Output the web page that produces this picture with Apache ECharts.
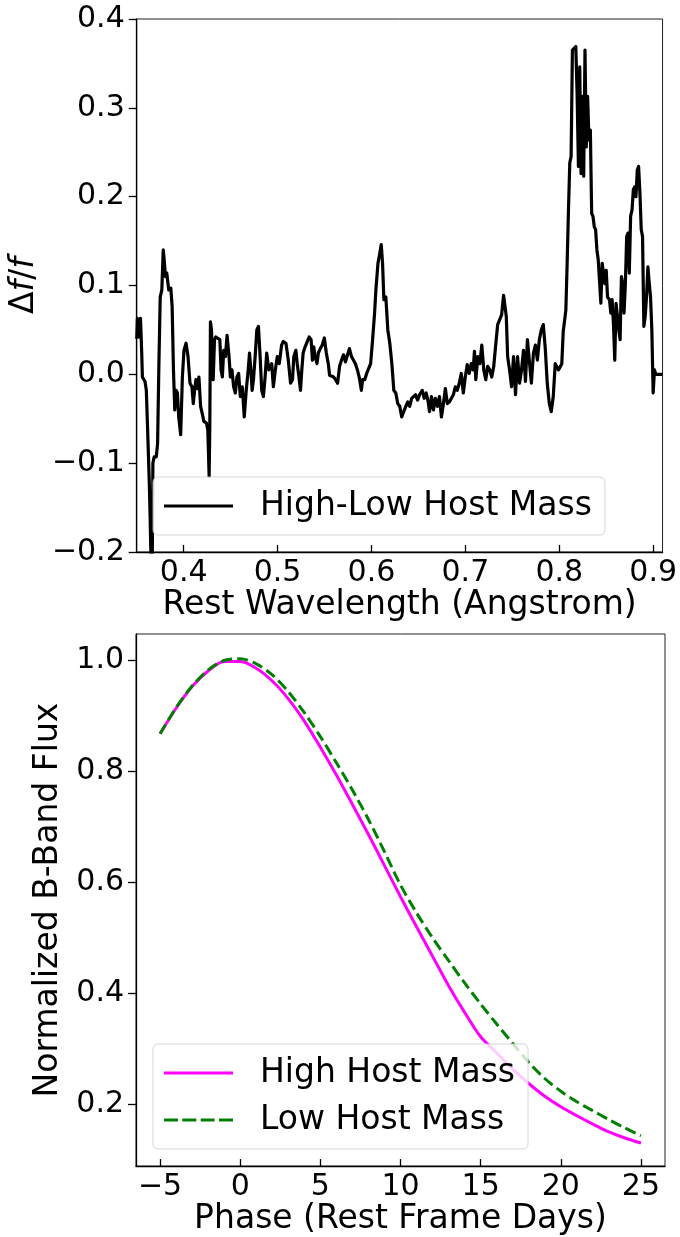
<!DOCTYPE html>
<html><head><meta charset="utf-8">
<script src="https://cdn.jsdelivr.net/npm/echarts@6/dist/echarts.min.js"></script>
<style>html,body{margin:0;padding:0;background:#fff}#c{width:680px;height:1237px}</style>
</head><body><div id="c"></div><script>
// ---- Top panel: spectral difference ----
const wave = [0.3500,0.3507,0.3526,0.3540,0.3553,0.3560,0.3588,0.3602,0.3616,0.3634,0.3644,0.3662,0.3672,0.3686,0.3708,0.3722,0.3736,0.3750,0.3767,0.3782,0.3792,0.3806,0.3820,0.3841,0.3863,0.3877,0.3891,0.3905,0.3919,0.3933,0.3947,0.3968,0.3986,0.4003,0.4025,0.4046,0.4067,0.4088,0.4102,0.4116,0.4130,0.4144,0.4162,0.4180,0.4197,0.4215,0.4243,0.4257,0.4271,0.4278,0.4285,0.4296,0.4314,0.4328,0.4342,0.4363,0.4385,0.4398,0.4412,0.4426,0.4444,0.4462,0.4483,0.4497,0.4514,0.4532,0.4550,0.4567,0.4585,0.4603,0.4624,0.4645,0.4666,0.4687,0.4701,0.4715,0.4729,0.4743,0.4761,0.4779,0.4796,0.4814,0.4831,0.4849,0.4867,0.4884,0.4906,0.4920,0.4937,0.4955,0.4976,0.4997,0.5018,0.5043,0.5061,0.5089,0.5114,0.5138,0.5159,0.5173,0.5195,0.5209,0.5223,0.5244,0.5258,0.5272,0.5293,0.5314,0.5336,0.5357,0.5371,0.5385,0.5399,0.5420,0.5434,0.5455,0.5476,0.5498,0.5519,0.5540,0.5554,0.5575,0.5596,0.5617,0.5639,0.5660,0.5681,0.5702,0.5723,0.5744,0.5765,0.5787,0.5808,0.5829,0.5850,0.5871,0.5892,0.5906,0.5928,0.5949,0.5970,0.5991,0.6012,0.6033,0.6047,0.6069,0.6083,0.6104,0.6118,0.6132,0.6153,0.6174,0.6195,0.6217,0.6238,0.6259,0.6280,0.6301,0.6322,0.6343,0.6364,0.6386,0.6407,0.6428,0.6449,0.6470,0.6491,0.6512,0.6541,0.6562,0.6583,0.6604,0.6618,0.6639,0.6660,0.6681,0.6703,0.6724,0.6745,0.6766,0.6787,0.6808,0.6830,0.6851,0.6872,0.6893,0.6914,0.6935,0.6956,0.6978,0.6999,0.7020,0.7041,0.7062,0.7083,0.7097,0.7111,0.7133,0.7154,0.7175,0.7196,0.7217,0.7238,0.7259,0.7281,0.7302,0.7323,0.7344,0.7365,0.7386,0.7407,0.7422,0.7436,0.7450,0.7471,0.7492,0.7513,0.7534,0.7556,0.7577,0.7598,0.7619,0.7640,0.7661,0.7682,0.7703,0.7725,0.7746,0.7767,0.7788,0.7809,0.7830,0.7851,0.7872,0.7894,0.7915,0.7936,0.7957,0.7978,0.7992,0.8013,0.8027,0.8042,0.8056,0.8070,0.8084,0.8098,0.8112,0.8126,0.8140,0.8155,0.8176,0.8190,0.8204,0.8218,0.8232,0.8246,0.8260,0.8274,0.8288,0.8302,0.8316,0.8331,0.8345,0.8359,0.8373,0.8387,0.8401,0.8415,0.8429,0.8443,0.8457,0.8472,0.8486,0.8500,0.8514,0.8535,0.8549,0.8563,0.8577,0.8591,0.8605,0.8619,0.8634,0.8648,0.8662,0.8676,0.8690,0.8704,0.8718,0.8732,0.8746,0.8760,0.8775,0.8789,0.8803,0.8817,0.8831,0.8845,0.8859,0.8873,0.8887,0.8901,0.8915,0.8929,0.8944,0.8958,0.8972,0.8986,0.9000,0.9014,0.9028,0.9100];
const dff = [0.040,0.063,0.042,0.063,0.024,-0.003,-0.008,-0.018,-0.063,-0.123,-0.168,-0.260,-0.100,-0.093,-0.093,-0.078,0.012,0.087,0.095,0.140,0.129,0.110,0.114,0.095,0.097,0.076,0.005,-0.040,-0.018,-0.021,-0.048,-0.068,-0.003,0.027,0.035,0.020,-0.010,-0.014,-0.033,-0.018,-0.006,-0.016,-0.003,-0.036,-0.044,-0.053,-0.055,-0.063,-0.115,-0.059,0.059,0.050,-0.006,0.039,0.042,0.042,0.039,0.005,-0.003,0.027,0.020,0.044,0.020,-0.003,0.005,-0.014,-0.021,-0.003,0.001,-0.025,-0.014,-0.048,-0.018,0.005,0.024,0.005,-0.018,-0.006,0.020,0.050,0.054,0.020,-0.018,-0.025,-0.003,0.024,0.005,0.003,0.012,-0.014,0.005,0.020,0.012,0.033,0.037,0.035,0.016,-0.010,-0.006,0.020,0.027,0.012,0.001,-0.018,0.005,0.024,0.031,0.033,0.042,0.039,0.016,0.031,0.020,0.012,0.024,0.029,0.033,0.041,0.024,0.012,-0.001,-0.003,-0.003,-0.006,-0.010,0.009,0.016,0.022,0.014,0.012,0.029,0.020,0.020,0.012,0.005,-0.004,-0.018,-0.006,-0.006,0.001,0.003,0.012,0.039,0.069,0.095,0.125,0.133,0.146,0.125,0.084,0.087,0.050,0.035,0.012,-0.018,-0.021,-0.033,-0.036,-0.048,-0.042,-0.040,-0.031,-0.036,-0.027,-0.025,-0.023,-0.029,-0.023,-0.018,-0.027,-0.021,-0.031,-0.042,-0.025,-0.040,-0.027,-0.036,-0.025,-0.048,-0.033,-0.016,-0.033,-0.031,-0.027,-0.023,-0.014,-0.018,-0.010,0.001,-0.021,-0.003,0.011,0.001,0.012,0.005,0.026,-0.006,0.020,0.012,0.033,0.005,-0.006,0.009,0.005,-0.003,0.009,0.033,0.056,0.054,0.067,0.089,0.089,0.065,0.020,0.005,-0.014,0.020,-0.023,0.020,-0.010,0.005,0.027,-0.008,0.039,0.039,-0.010,0.024,0.033,0.016,0.039,0.050,0.056,0.029,-0.010,-0.033,-0.042,-0.025,0.012,0.012,0.005,0.009,0.012,0.048,0.050,0.072,0.125,0.185,0.238,0.245,0.365,0.367,0.369,0.316,0.234,0.346,0.226,0.313,0.223,0.365,0.256,0.313,0.264,0.275,0.181,0.178,0.166,0.163,0.140,0.129,0.129,0.080,0.125,0.125,0.102,0.117,0.087,0.084,0.069,0.084,0.057,0.016,0.080,0.080,0.050,0.039,0.110,0.102,0.069,0.102,0.155,0.159,0.114,0.178,0.185,0.208,0.211,0.200,0.230,0.234,0.204,0.163,0.155,0.054,0.065,0.087,0.121,0.103,0.087,0.050,-0.021,0.005,0.000,0.000];
const waveTicks = [0.4, 0.5, 0.6, 0.7, 0.8, 0.9];

// ---- Bottom panel: light curves ----
const phase = [-5,-4,-3,-2,-1,0,1,2,3,4,5,6,7,8,9,10,11,12,13,14,15,16,17,18,19,20,21,22,23,24,25];
const highMass = [0.867,0.913,0.952,0.980,0.997,0.997,0.985,0.962,0.930,0.890,0.843,0.793,0.740,0.686,0.630,0.574,0.520,0.467,0.414,0.366,0.322,0.293,0.264,0.238,0.215,0.196,0.180,0.165,0.151,0.140,0.131];
const lowMass  = [0.867,0.914,0.953,0.982,0.999,1.002,0.993,0.973,0.943,0.905,0.862,0.815,0.766,0.713,0.655,0.595,0.545,0.500,0.459,0.419,0.381,0.345,0.310,0.276,0.247,0.224,0.205,0.189,0.173,0.158,0.144];
const phaseTicks = [-5, 0, 5, 10, 15, 20, 25];
const fluxTicks = [0.2, 0.4, 0.6, 0.8, 1.0];

const FONT = 'DejaVu Sans';
const minus = s => String(s).replace('-', '\u2212');

// legend icons: solid and dashed line glyphs (69 x 3)
const SOLID_ICON = 'path://M0,0H69V3H0Z';
const DASH_ICON = 'path://M0,0H14V3H0Z M18.3,0H32.3V3H18.3Z M36.7,0H50.7V3H36.7Z M55,0H69V3H55Z';

const axisCommon = {
  axisLine: { show: true, onZero: false, lineStyle: { color: '#000', width: 1.3 } },
  splitLine: { show: false },
  axisLabel: { color: '#000', fontSize: 30, fontFamily: FONT },
  nameTextStyle: { color: '#000', fontSize: 33, fontFamily: FONT }
};
function xAx(extra) {
  return Object.assign({}, axisCommon, { type: 'value', nameLocation: 'middle' }, extra, {
    axisLabel: Object.assign({}, axisCommon.axisLabel, { margin: 6 }, extra.axisLabel || {}),
    axisTick: Object.assign({ show: true, inside: true, length: 7, lineStyle: { color: '#000', width: 1.3 } }, extra.axisTick || {}),
    nameTextStyle: Object.assign({}, axisCommon.nameTextStyle, extra.nameTextStyle || {})
  });
}
function yAx(extra) {
  return Object.assign({}, axisCommon, { type: 'value', nameLocation: 'middle', nameRotate: 90 }, extra, {
    axisLabel: Object.assign({}, axisCommon.axisLabel, { margin: 12 }, extra.axisLabel || {}),
    axisTick: Object.assign({ show: true, inside: false, length: 8, lineStyle: { color: '#000', width: 1.3 } }, extra.axisTick || {}),
    nameTextStyle: Object.assign({}, axisCommon.nameTextStyle, extra.nameTextStyle || {})
  });
}

const legendCommon = {
  orient: 'vertical',
  itemWidth: 69, itemHeight: 3, itemGap: 11,
  padding: [11, 13, 11, 11],
  backgroundColor: 'rgba(255,255,255,0.8)',
  borderColor: 'rgba(204,204,204,0.8)', borderWidth: 1, borderRadius: 5,
  textStyle: { color: '#000', fontSize: 33, fontFamily: FONT, lineHeight: 36, padding: [0, 0, 0, 22] }
};

const chart = echarts.init(document.getElementById('c'), null, { renderer: 'canvas' });
chart.setOption({
  animation: false,
  backgroundColor: '#fff',
  grid: [
    { left: 136, top: 19, width: 529, height: 533, show: true, borderColor: '#222', borderWidth: 1, backgroundColor: 'transparent' },
    { left: 136, top: 634, width: 529, height: 533, show: true, borderColor: '#222', borderWidth: 1, backgroundColor: 'transparent' }
  ],
  xAxis: [
    xAx({ gridIndex: 0, min: 0.35, max: 0.91, name: 'Rest Wavelength (Angstrom)', nameGap: 35,
      axisLabel: { customValues: waveTicks, formatter: v => v.toFixed(1) },
      axisTick: { customValues: waveTicks } }),
    xAx({ gridIndex: 1, min: -6.5, max: 26.5, name: 'Phase (Rest Frame Days)', nameGap: 36,
      axisLabel: { customValues: phaseTicks, formatter: v => minus(Math.round(v)) },
      axisTick: { customValues: phaseTicks } })
  ],
  yAxis: [
    yAx({ gridIndex: 0, min: -0.2, max: 0.4, interval: 0.1,
      name: '{n|\u0394}{i|f}{n|/}{i|f}', nameGap: 84,
      nameTextStyle: { rich: {
        n: { fontSize: 33, fontFamily: FONT, color: '#000' },
        i: { fontSize: 33, fontFamily: FONT, fontStyle: 'italic', color: '#000' } } },
      axisLabel: { formatter: v => minus(v.toFixed(1)) } }),
    yAx({ gridIndex: 1, min: 0.0894, max: 1.0466, name: 'Normalized B-Band Flux', nameGap: 67,
      axisLabel: { customValues: fluxTicks, formatter: v => v.toFixed(1) },
      axisTick: { customValues: fluxTicks } })
  ],
  legend: [
    Object.assign({}, legendCommon, { left: 153, top: 477,
      data: [{ name: 'High-Low Host Mass', icon: SOLID_ICON, itemStyle: { color: '#000' } }] }),
    Object.assign({}, legendCommon, { left: 153, top: 1044,
      data: [{ name: 'High Host Mass', icon: SOLID_ICON, itemStyle: { color: '#ff00ff' } },
             { name: 'Low Host Mass', icon: DASH_ICON, itemStyle: { color: '#008000' } }] })
  ],
  series: [
    { name: 'High-Low Host Mass', type: 'line', xAxisIndex: 0, yAxisIndex: 0,
      data: wave.map((w, i) => [w, dff[i]]), symbol: 'none', showSymbol: false, clip: true,
      lineStyle: { color: '#000', width: 3.2, join: 'round' }, itemStyle: { color: '#000' } },
    { name: 'High Host Mass', type: 'line', xAxisIndex: 1, yAxisIndex: 1, smooth: 0.3,
      data: phase.map((p, i) => [p, highMass[i]]), symbol: 'none', showSymbol: false,
      lineStyle: { color: '#ff00ff', width: 3 }, itemStyle: { color: '#ff00ff' } },
    { name: 'Low Host Mass', type: 'line', xAxisIndex: 1, yAxisIndex: 1, smooth: 0.3,
      data: phase.map((p, i) => [p, lowMass[i]]), symbol: 'none', showSymbol: false,
      lineStyle: { color: '#008000', width: 3, type: [11, 5] }, itemStyle: { color: '#008000' } }
  ]
});
</script></body></html>
